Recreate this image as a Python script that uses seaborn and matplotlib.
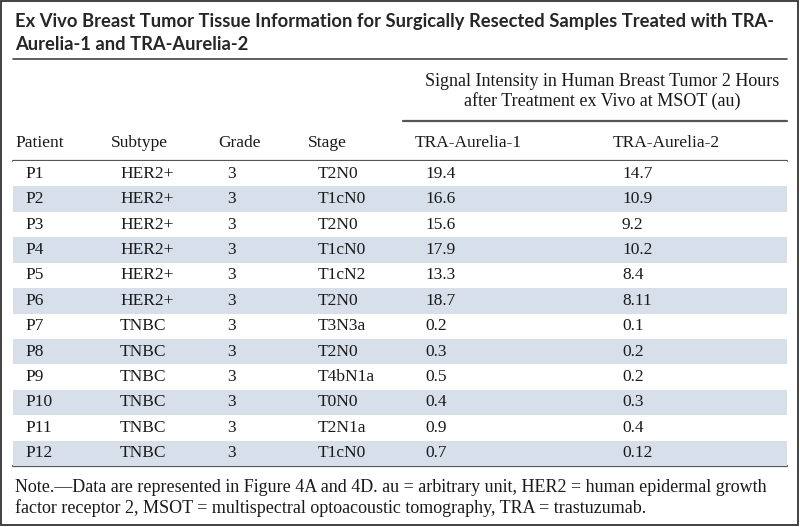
import numpy as np
import pandas as pd
import matplotlib.pyplot as plt
from matplotlib.colors import ListedColormap
from matplotlib.patches import Rectangle
import seaborn as sns

# Table content
title_lines = ["Ex Vivo Breast Tumor Tissue Information for Surgically Resected Samples Treated with TRA-",
               "Aurelia-1 and TRA-Aurelia-2"]
group_header = ["Signal Intensity in Human Breast Tumor 2 Hours",
                "after Treatment ex Vivo at MSOT (au)"]
columns = ["Patient", "Subtype", "Grade", "Stage", "TRA-Aurelia-1", "TRA-Aurelia-2"]
patients = ["P1", "P2", "P3", "P4", "P5", "P6", "P7", "P8", "P9", "P10", "P11", "P12"]
subtypes = ["HER2+"] * 6 + ["TNBC"] * 6
grades = ["3"] * 12
stages = ["T2N0", "T1cN0", "T2N0", "T1cN0", "T1cN2", "T2N0",
          "T3N3a", "T2N0", "T4bN1a", "T0N0", "T2N1a", "T1cN0"]
aurelia1 = ["19.4", "16.6", "15.6", "17.9", "13.3", "18.7",
            "0.2", "0.3", "0.5", "0.4", "0.9", "0.7"]
aurelia2 = ["14.7", "10.9", "9.2", "10.2", "8.4", "8.11",
            "0.1", "0.2", "0.2", "0.3", "0.4", "0.12"]
note_lines = ["Note.\u2014Data are represented in Figure 4A and 4D. au = arbitrary unit, HER2 = human epidermal growth",
              "factor receptor 2, MSOT = multispectral optoacoustic tomography, TRA = trastuzumab."]

df = pd.DataFrame({"Patient": patients, "Subtype": subtypes, "Grade": grades,
                   "Stage": stages, "TRA-Aurelia-1": aurelia1, "TRA-Aurelia-2": aurelia2})

sns.set_style("white")
serif = ["Liberation Serif", "DejaVu Serif"]
W, H = 800, 527
fig = plt.figure(figsize=(8, 5.27), dpi=100)

# overlay axes in pixel coordinates for title / headers / rules
bg = fig.add_axes([0, 0, 1, 1])
bg.set_xlim(0, W)
bg.set_ylim(H, 0)
bg.axis("off")

# body axes holding the striped rows (heatmap)
x0, x1, y0, y1 = 13, 787, 161, 466
body = fig.add_axes([x0 / W, 1 - y1 / H, (x1 - x0) / W, (y1 - y0) / H])
stripes = np.array([[i % 2] for i in range(len(df))])
sns.heatmap(stripes, ax=body, cmap=ListedColormap(["white", "#D7DFEA"]),
            cbar=False, xticklabels=False, yticklabels=False, vmin=0, vmax=1)
body.axis("off")

# column x positions (pixels)
head_x = [15, 111, 218, 308, 415, 613]
cell_x = [25, 120, 227, 318, 425, 622]
fs = 12.5
txt = "#1a1a1a"

bg.add_patch(Rectangle((1, 1), 797, 524, fill=False, lw=1.3, ec="#333333"))
bg.text(15, 22, title_lines[0], fontsize=13.2, fontweight="bold", family=["Lato", "DejaVu Sans"], va="center")
bg.text(15, 44, title_lines[1], fontsize=13.2, fontweight="bold", family=["Lato", "DejaVu Sans"], va="center")
bg.plot([13, 787], [59, 59], color="#444444", lw=1.2)

bg.text(602, 82, group_header[0], fontsize=13, family=serif, ha="center", va="center", color=txt)
bg.text(602, 101, group_header[1], fontsize=13, family=serif, ha="center", va="center", color=txt)
bg.plot([403, 787], [121, 121], color="#555555", lw=1.6)

for x, c in zip(head_x, columns):
    bg.text(x, 143, c, fontsize=fs, family=serif, va="center", color=txt)
bg.plot([13, 787], [y0, y0], color="#555555", lw=1.6)

for i, row in df.iterrows():
    for x, c in zip(cell_x, columns):
        body.text((x - x0) / (x1 - x0), i + 0.5, row[c], fontsize=fs, family=serif,
                  va="center", ha="left", color=txt, transform=body.transData)
body.set_xlim(0, 1)
bg.plot([13, 787], [y1, y1], color="#555555", lw=1.6)

bg.text(15, 487, note_lines[0], fontsize=13, family=serif, va="center", color=txt)
bg.text(15, 508, note_lines[1], fontsize=13, family=serif, va="center", color=txt)

fig.savefig("out.png", dpi=100)
